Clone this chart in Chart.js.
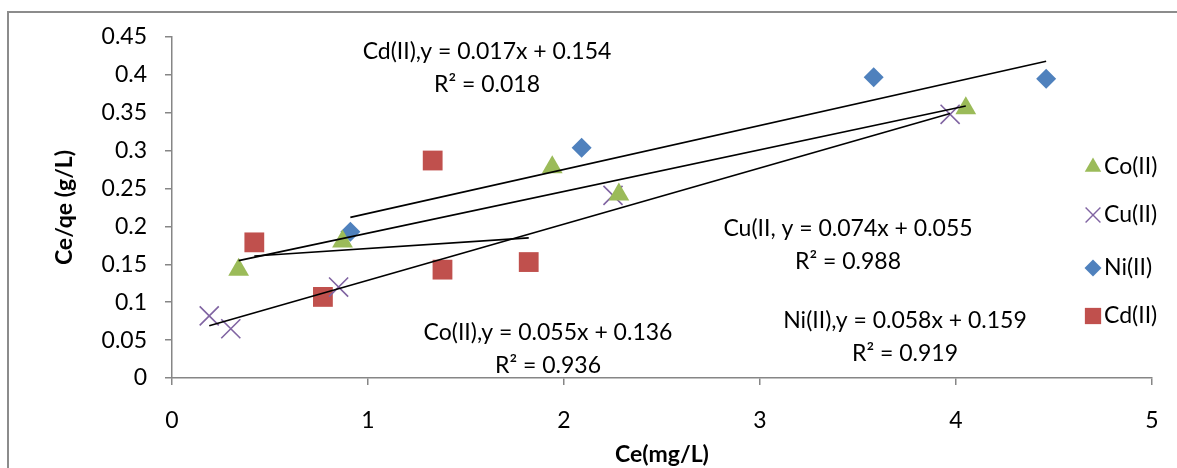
<!DOCTYPE html>
<html>
<head>
<meta charset="utf-8">
<script src="https://cdn.jsdelivr.net/npm/chart.js@4.4.1/dist/chart.umd.min.js"></script>
<style>
    html, body { margin: 0; padding: 0; background: #fff; }
    #wrap { position: relative; width: 1177px; height: 468px; overflow: hidden; }
    #frame { position: absolute; left: 7px; top: 11px; width: 1200px; height: 500px; border: 2px solid #8c8c8c; }
    #chart { position: absolute; left: 0; top: 0; }
</style>
</head>
<body>
<div id="wrap">
    <div id="frame"></div>
    <canvas id="chart" width="1177" height="468"></canvas>
</div>
<script>
// Series names
const seriesNames = ['Co(II)', 'Cu(II)', 'Ni(II)', 'Cd(II)'];

// Co(II)
const coX = [0.34, 0.87, 1.94, 2.28, 4.05];
const coY = [0.143, 0.180, 0.278, 0.242, 0.356];
// Cu(II)
const cuX = [0.19, 0.30, 0.85, 2.25, 3.97];
const cuY = [0.082, 0.065, 0.120, 0.241, 0.348];
// Ni(II)
const niX = [0.91, 2.09, 3.58, 4.46];
const niY = [0.193, 0.304, 0.397, 0.395];
// Cd(II)
const cdX = [0.42, 1.33, 0.77, 1.38, 1.82];
const cdY = [0.179, 0.287, 0.107, 0.143, 0.153];

// Trend line end points
const coFitX = [0.34, 4.05];
const coFitY = [0.155, 0.359];
const cuFitX = [0.19, 3.97];
const cuFitY = [0.069, 0.349];
const niFitX = [0.91, 4.46];
const niFitY = [0.212, 0.418];
const cdFitX = [0.42, 1.82];
const cdFitY = [0.161, 0.185];

// Equation labels
const eqText = [
    ['Cd(II),y = 0.017x + 0.154', 'R\u00b2 = 0.018'],
    ['Cu(II, y = 0.074x + 0.055', 'R\u00b2 = 0.988'],
    ['Co(II),y = 0.055x + 0.136', 'R\u00b2 = 0.936'],
    ['Ni(II),y = 0.058x + 0.159', 'R\u00b2 = 0.919']
];

// Tick labels
const xTickLabels = ['0', '1', '2', '3', '4', '5'];
const yTickLabels = ['0', '0.05', '0.1', '0.15', '0.2', '0.25', '0.3', '0.35', '0.4', '0.45'];

const FONT = 'Lato';
const FSIZE = 23;
const colors = ['#9BBB59', '#8064A2', '#4F81BD', '#C0504D'];
const styles = ['triangle', 'crossRot', 'rectRot', 'rect'];
const radii = [12, 13.5, 10, 14];

function toPoints(xs, ys) {
    return xs.map(function(x, i) { return { x: x, y: ys[i] }; });
}

function fitLine(xs, ys) {
    return {
        type: 'line',
        data: toPoints(xs, ys),
        borderColor: '#000000',
        borderWidth: 1.7,
        pointRadius: 0,
        showLine: true,
        fill: false
    };
}

function markers(i, xs, ys) {
    return {
        type: 'scatter',
        label: seriesNames[i],
        data: toPoints(xs, ys),
        pointStyle: styles[i],
        pointRadius: radii[i],
        pointHoverRadius: radii[i],
        backgroundColor: colors[i],
        borderColor: colors[i],
        borderWidth: i === 1 ? 1.6 : 0
    };
}

// Equation text drawn in the plot area
const equationPlugin = {
    id: 'equations',
    afterDatasetsDraw(chart) {
        const ctx = chart.ctx;
        const anchors = [[487, 52], [848, 229], [548, 333], [905, 321]];
        ctx.save();
        ctx.fillStyle = '#000';
        ctx.font = FSIZE + 'px ' + FONT;
        ctx.textAlign = 'center';
        ctx.textBaseline = 'middle';
        eqText.forEach(function(lines, i) {
            ctx.fillText(lines[0], anchors[i][0], anchors[i][1]);
            ctx.fillText(lines[1], anchors[i][0], anchors[i][1] + 33);
        });
        ctx.restore();
    }
};

// Legend at right, overlapping the plot like the original
const legendPlugin = {
    id: 'sideLegend',
    afterDraw(chart) {
        const ctx = chart.ctx;
        const rows = [167, 215, 268, 316];
        const legRadii = [9.5, 10.5, 8.5, 11.5];
        ctx.save();
        seriesNames.forEach(function(name, i) {
            ctx.fillStyle = colors[i];
            ctx.strokeStyle = colors[i];
            ctx.lineWidth = 1.4;
            Chart.helpers.drawPoint(ctx, {
                pointStyle: styles[i],
                rotation: 0,
                radius: legRadii[i],
                borderWidth: i === 1 ? 1.4 : 0
            }, 1093, rows[i]);
            ctx.fillStyle = '#000';
            ctx.font = FSIZE + 'px ' + FONT;
            ctx.textAlign = 'left';
            ctx.textBaseline = 'middle';
            ctx.fillText(name, 1104, rows[i]);
        });
        ctx.restore();
    }
};

new Chart(document.getElementById('chart'), {
    type: 'scatter',
    data: {
        datasets: [
            fitLine(coFitX, coFitY),
            fitLine(cuFitX, cuFitY),
            fitLine(niFitX, niFitY),
            fitLine(cdFitX, cdFitY),
            markers(0, coX, coY),
            markers(1, cuX, cuY),
            markers(2, niX, niY),
            markers(3, cdX, cdY)
        ]
    },
    options: {
        responsive: false,
        animation: false,
        layout: {
            padding: { left: 51, top: 37, right: 25, bottom: 0 }
        },
        plugins: {
            legend: { display: false },
            tooltip: { enabled: false }
        },
        scales: {
            x: {
                type: 'linear',
                min: 0,
                max: 5,
                afterFit: function(scale) { scale.height = 90; scale.paddingRight = 0; },
                ticks: {
                    stepSize: 1,
                    color: '#000',
                    padding: 22,
                    maxRotation: 0,
                    font: { family: FONT, size: FSIZE },
                    callback: function(v, i) { return xTickLabels[i]; }
                },
                grid: {
                    display: true,
                    drawOnChartArea: false,
                    color: '#868686',
                    tickLength: 7,
                    lineWidth: 1.5
                },
                border: { color: '#868686', width: 1.5 },
                title: {
                    display: true,
                    text: 'Ce(mg/L)',
                    color: '#000',
                    font: { family: FONT, size: FSIZE, weight: 'bold' },
                    padding: { top: 0, bottom: 0 }
                }
            },
            y: {
                type: 'linear',
                min: 0,
                max: 0.45,
                afterFit: function(scale) { scale.width = 121; },
                ticks: {
                    stepSize: 0.05,
                    color: '#000',
                    padding: 18,
                    font: { family: FONT, size: FSIZE },
                    callback: function(v, i) { return yTickLabels[i]; }
                },
                grid: {
                    display: true,
                    drawOnChartArea: false,
                    color: '#868686',
                    tickLength: 7,
                    lineWidth: 1.5
                },
                border: { color: '#868686', width: 1.5 },
                title: {
                    display: true,
                    text: 'Ce/qe (g/L)',
                    color: '#000',
                    font: { family: FONT, size: FSIZE, weight: 'bold' },
                    padding: { top: 0, bottom: 0 }
                }
            }
        }
    },
    plugins: [equationPlugin, legendPlugin]
});
</script>
</body>
</html>
